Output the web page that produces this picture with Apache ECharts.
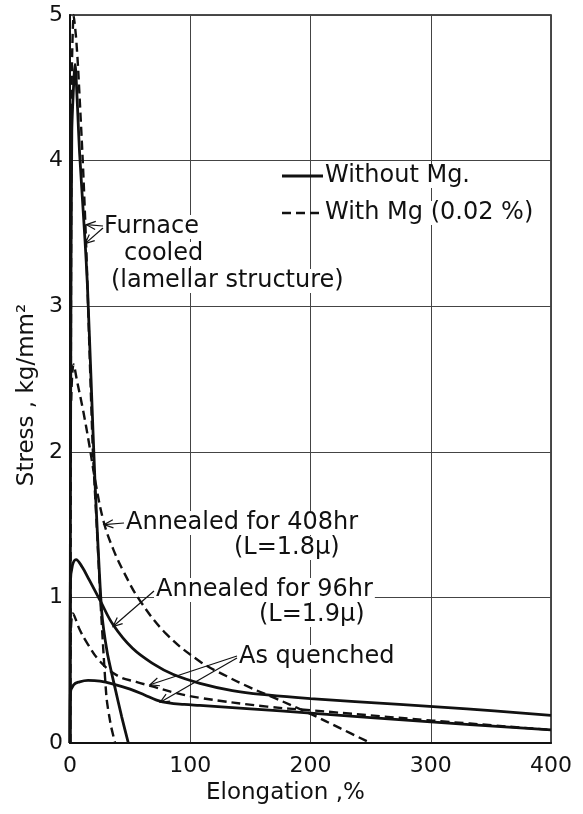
<!DOCTYPE html>
<html>
<head>
<meta charset="utf-8">
<script src="https://cdn.jsdelivr.net/npm/echarts@6/dist/echarts.min.js"></script>
<style>
  html, body { margin: 0; padding: 0; background: #fff; }
  #chart { width: 583px; height: 814px; }
</style>
</head>
<body>
<div id="chart"></div>
<script>
// curves: [elongation %, stress kg/mm2]
var furnaceNoMg = [[0,0],[0.6,2.5],[1.5,4.2],[4.2,4.66],[8,4.05],[12.5,3.45],[14.4,3.16],[17.5,2.5],[20.8,1.79],[26.3,0.91],[31,0.62],[37.4,0.38],[43,0.18],[48.5,0]];
var furnaceMg = [[0.3,0],[0.8,3],[1.5,4.6],[3,5.0],[5,4.85],[6.7,4.64],[10.6,4.0],[13.3,3.45],[16,2.75],[19,2.01],[22.5,1.45],[25.5,0.95],[28,0.6],[30.5,0.3],[34,0.12],[37.5,0]];
var ann96NoMg = [[0,0],[0.3,1.1],[2,1.22],[5,1.26],[10,1.21],[16,1.12],[25,0.98],[36,0.81],[52,0.65],[70,0.54],[86,0.47],[108,0.41],[135,0.36],[164,0.33],[200,0.305],[274,0.265],[330,0.235],[400,0.19]];
var ann408Mg = [[1,2.35],[3,2.6],[6,2.48],[11,2.28],[16,2.05],[21,1.8],[28,1.52],[36,1.33],[45,1.17],[58,0.98],[80,0.75],[108,0.56],[130,0.46],[150,0.38],[170,0.31],[200,0.2],[225,0.1],[250,0]];
var quenchNoMg = [[0,0],[0.3,0.34],[3,0.4],[8,0.42],[15,0.43],[25,0.425],[36,0.405],[50,0.37],[62,0.33],[72,0.295],[82,0.275],[95,0.265],[108,0.258],[150,0.235],[200,0.205],[300,0.145],[400,0.09]];
var quenchMg = [[0.3,0.6],[2.5,0.89],[8,0.78],[14,0.69],[25,0.56],[40,0.46],[55,0.42],[70,0.385],[85,0.35],[108,0.31],[164,0.25],[200,0.225],[300,0.155],[400,0.09]];

var xTicks = [0, 100, 200, 300, 400];
var yTicks = [0, 1, 2, 3, 4, 5];
var legendNames = ['Without Mg.', 'With Mg (0.02 %)'];

var FONT = '"DejaVu Sans", "Noto Sans", sans-serif';
var INK = '#111';
var DASH = [9, 5];

var myChart = echarts.init(document.getElementById('chart'));

function curve(name, data, dashed, smooth) {
  return {
    name: name,
    type: 'line',
    data: data,
    symbol: 'none',
    smooth: smooth,
    z: 3,
    lineStyle: {
      color: INK,
      width: dashed ? 2.4 : 2.8,
      type: dashed ? DASH : 'solid'
    }
  };
}

myChart.setOption({
  animation: false,
  grid: {
    left: 70, right: 32, top: 15, bottom: 71,
    show: true, borderColor: INK, borderWidth: 1.5
  },
  xAxis: {
    type: 'value',
    min: xTicks[0], max: xTicks[xTicks.length - 1], interval: 100,
    axisLine: { lineStyle: { color: INK, width: 2 } },
    axisTick: { show: false },
    axisLabel: { color: INK, fontSize: 22, fontFamily: FONT, margin: 12 },
    splitLine: { show: true, lineStyle: { color: '#444', width: 1 } }
  },
  yAxis: {
    type: 'value',
    min: yTicks[0], max: yTicks[yTicks.length - 1], interval: 1,
    axisLine: { show: true, lineStyle: { color: INK, width: 2 } },
    axisTick: { show: false },
    axisLabel: { color: INK, fontSize: 22, fontFamily: FONT, margin: 7 },
    splitLine: { show: true, lineStyle: { color: '#444', width: 1 } }
  },
  series: [
    curve(legendNames[0], furnaceNoMg, false, 0.2),
    curve(legendNames[1], furnaceMg, true, 0.2),
    curve(legendNames[0], ann96NoMg, false, 0.4),
    curve(legendNames[1], ann408Mg, true, 0.4),
    curve(legendNames[0], quenchNoMg, false, 0.4),
    curve(legendNames[1], quenchMg, true, 0.4)
  ]
});

// annotations: text in pixels, arrow tips on the curves in data units
function px(p) { return myChart.convertToPixel({ gridIndex: 0 }, p); }

function label(text, x, y) {
  return {
    type: 'text', x: x, y: y, z: 1,
    style: {
      text: text, font: '24px ' + FONT, fill: INK,
      verticalAlign: 'middle', align: 'left',
      backgroundColor: '#fff', padding: [0, 2]
    }
  };
}

function arrow(from, tipData) {
  var t = px(tipData);
  var dx = from[0] - t[0], dy = from[1] - t[1];
  var len = Math.sqrt(dx * dx + dy * dy);
  var ux = dx / len, uy = dy / len;
  var a = 0.42, h = 10;
  var h1 = [t[0] + h * (ux * Math.cos(a) - uy * Math.sin(a)), t[1] + h * (uy * Math.cos(a) + ux * Math.sin(a))];
  var h2 = [t[0] + h * (ux * Math.cos(-a) - uy * Math.sin(-a)), t[1] + h * (uy * Math.cos(-a) + ux * Math.sin(-a))];
  return [
    { type: 'polyline', z: 4, shape: { points: [from, t] }, style: { stroke: INK, lineWidth: 1.2, fill: null } },
    { type: 'polyline', z: 4, shape: { points: [h1, t, h2] }, style: { stroke: INK, lineWidth: 1.2, fill: null } }
  ];
}

function legendRow(name, y, dashed) {
  return [
    { type: 'line', z: 4, shape: { x1: 282, y1: y, x2: 323, y2: y },
      style: { stroke: INK, lineWidth: dashed ? 2.4 : 2.8, lineDash: dashed ? DASH : null } },
    label(name, 323, y)
  ];
}

var graphics = [
  label('Furnace', 102, 227),
  label('cooled', 122, 254),
  label('(lamellar structure)', 109, 281),
  label('Annealed for 408hr', 124, 523),
  label('(L=1.8\u03bc)', 232, 548),
  label('Annealed for 96hr', 154, 590),
  label('(L=1.9\u03bc)', 257, 615),
  label('As quenched', 237, 657),
  {
    type: 'text', x: 206, y: 793, z: 1,
    style: { text: 'Elongation ,%', font: '23px ' + FONT, fill: INK, verticalAlign: 'middle', align: 'left' }
  },
  {
    type: 'text', x: 27, y: 395, rotation: Math.PI / 2, z: 1,
    style: { text: 'Stress , kg/mm\u00b2', font: '23px ' + FONT, fill: INK, verticalAlign: 'middle', align: 'center' }
  }
]
  .concat(legendRow(legendNames[0], 176, false))
  .concat(legendRow(legendNames[1], 213, true))
  .concat(arrow([103, 226], [13.6, 3.56]))
  .concat(arrow([103, 228], [12.6, 3.43]))
  .concat(arrow([124, 523], [28.3, 1.5]))
  .concat(arrow([154, 591], [35.8, 0.8]))
  .concat(arrow([237, 656], [66.5, 0.4]))
  .concat(arrow([237, 658], [75, 0.28]));

myChart.setOption({ graphic: graphics });
</script>
</body>
</html>
